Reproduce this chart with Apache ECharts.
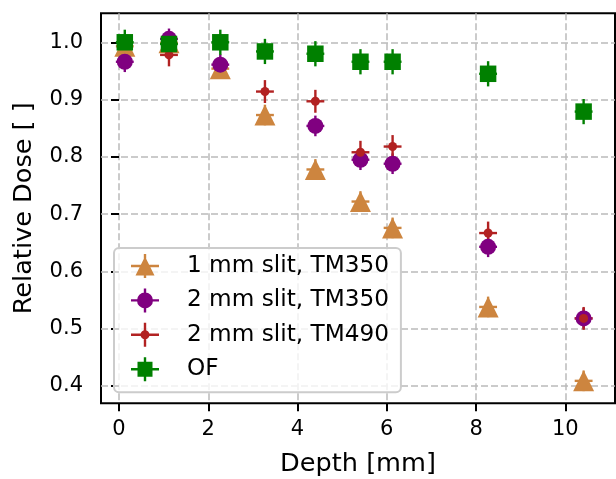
<!DOCTYPE html>
<html>
<head>
<meta charset="utf-8">
<script src="https://cdn.jsdelivr.net/npm/echarts@6/dist/echarts.min.js"></script>
<style>
  html, body { margin: 0; padding: 0; background: #fff; }
  #chart { width: 616px; height: 479px; }
</style>
</head>
<body>
<div id="chart"></div>
<script>
// depth of each measurement [mm]
const depth = [0.13, 1.12, 2.27, 3.27, 4.40, 5.41, 6.13, 8.27, 10.41];
// relative dose per detector / field (null = no point)
const slit1TM350 = [0.993, 0.999, 0.954, 0.873, 0.778, 0.722, 0.676, 0.538, 0.409];
const slit2TM350 = [0.966, 1.006, 0.961, null, 0.854, 0.795, 0.788, 0.643, 0.518];
const slit2TM490 = [null, 0.978, null, 0.914, 0.897, 0.808, 0.818, 0.667, 0.518];
const openField = [1.0, 0.997, 1.0, 0.984, 0.980, 0.966, 0.966, 0.945, 0.879];
// error bars
const xErr = [0.2, 0.2, 0.2, 0.2];
const yErr = [0.018, 0.018, 0.02, 0.022];

const names = ['1 mm slit, TM350', '2 mm slit, TM350', '2 mm slit, TM490', 'OF'];
const xTicks = [0, 2, 4, 6, 8, 10];
const yTicks = [0.4, 0.5, 0.6, 0.7, 0.8, 0.9, 1.0];

const values = [slit1TM350, slit2TM350, slit2TM490, openField];
const colors = ['#cd853f', '#800080', '#b22222', '#008000'];
const symbols = ['triangle', 'circle', 'circle', 'rect'];
const sizes = [21, 16, 9, 16.5];

const font = 'DejaVu Sans';

// legend icons: marker + error bar cross, in a 28x24 box
const bars = 'M12.8,0 H15.2 V24 H12.8 Z M0,10.8 H28 V13.2 H0 Z ';
const icons = [
  'path://' + bars + 'M14,2.5 L23.5,21.5 L4.5,21.5 Z',
  'path://' + bars + 'M6,12 A8,8 0 1 1 22,12 A8,8 0 1 1 6,12 Z',
  'path://' + bars + 'M9.5,12 A4.5,4.5 0 1 1 18.5,12 A4.5,4.5 0 1 1 9.5,12 Z',
  'path://' + bars + 'M6.5,4.5 H21.5 V19.5 H6.5 Z'
];

function errorBars(color) {
  return function (params, api) {
    const x = api.value(0), y = api.value(1), dx = api.value(2), dy = api.value(3);
    const l = api.coord([x - dx, y]), r = api.coord([x + dx, y]);
    const t = api.coord([x, y + dy]), b = api.coord([x, y - dy]);
    const style = { stroke: color, lineWidth: 2.4 };
    return {
      type: 'group',
      children: [
        { type: 'line', shape: { x1: l[0], y1: l[1], x2: r[0], y2: r[1] }, style: style },
        { type: 'line', shape: { x1: t[0], y1: t[1], x2: b[0], y2: b[1] }, style: style }
      ]
    };
  };
}

const series = [];
values.forEach(function (vals, i) {
  const pts = [];
  depth.forEach(function (d, j) {
    if (vals[j] !== null) pts.push([d, vals[j]]);
  });
  series.push({
    type: 'custom',
    renderItem: errorBars(colors[i]),
    data: pts.map(p => [p[0], p[1], xErr[i], yErr[i]]),
    encode: { x: 0, y: 1 },
    silent: true
  });
  series.push({
    name: names[i],
    type: 'scatter',
    data: pts,
    symbol: symbols[i],
    symbolSize: sizes[i],
    itemStyle: { color: colors[i], opacity: 1 }
  });
});

const chart = echarts.init(document.getElementById('chart'));
chart.setOption({
  animation: false,
  grid: {
    left: 101, top: 13.3, right: 1, bottom: 75.7,
    show: true, borderColor: '#000', borderWidth: 2,
    outerBoundsMode: 'none'
  },
  legend: {
    orient: 'vertical',
    left: 114, top: 248,
    padding: [6, 12, 11, 17],
    itemWidth: 28, itemHeight: 24, itemGap: 10.4,
    backgroundColor: 'rgba(255,255,255,0.8)',
    borderColor: '#cccccc', borderWidth: 2, borderRadius: 5,
    selectedMode: false,
    textStyle: { fontFamily: font, fontSize: 23.2, color: '#000', lineHeight: 24, padding: [0, 0, 0, 23] },
    data: names.map((n, i) => ({ name: n, icon: icons[i] }))
  },
  xAxis: {
    type: 'value',
    min: -0.403, max: 11.113,
    name: 'Depth [mm]',
    nameLocation: 'middle',
    nameGap: 48,
    nameTextStyle: { fontFamily: font, fontSize: 25.6, color: '#000' },
    axisLine: { show: false },
    axisTick: { show: true, length: 8, lineStyle: { color: '#000', width: 2 }, customValues: xTicks },
    axisLabel: { fontFamily: font, fontSize: 21, color: '#000', margin: 16, customValues: xTicks },
    splitLine: { show: true, lineStyle: { color: '#bbbbbb', width: 1.5, type: [7, 3] } }
  },
  yAxis: {
    type: 'value',
    min: 0.3698, max: 1.0506,
    name: 'Relative Dose [ ]',
    nameLocation: 'middle',
    nameGap: 64,
    nameTextStyle: { fontFamily: font, fontSize: 25.6, color: '#000' },
    axisLine: { show: false },
    axisTick: { show: true, length: 8, lineStyle: { color: '#000', width: 2 }, customValues: yTicks },
    axisLabel: { fontFamily: font, fontSize: 21, color: '#000', margin: 18, customValues: yTicks, formatter: v => v.toFixed(1) },
    splitLine: { show: true, lineStyle: { color: '#bbbbbb', width: 1.5, type: [7, 3] } }
  },
  series: series
});
</script>
</body>
</html>
